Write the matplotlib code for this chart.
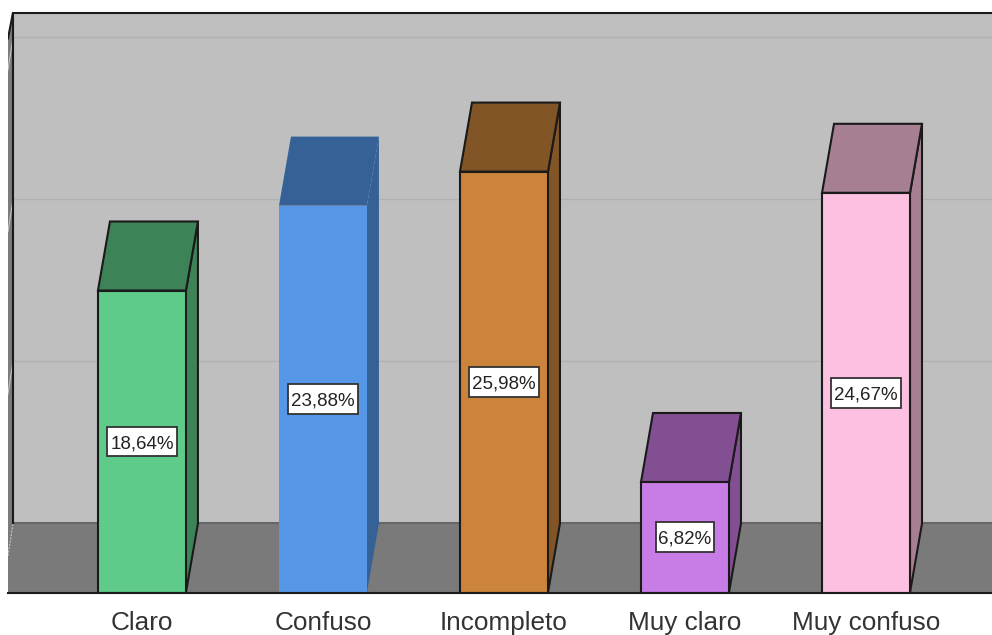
import matplotlib
matplotlib.use("Agg")
import matplotlib.pyplot as plt
from matplotlib.patches import Rectangle

plt.rcParams['font.family'] = ['Liberation Sans', 'DejaVu Sans']

categories = ["Claro", "Confuso", "Incompleto", "Muy claro", "Muy confuso"]
percents = [18.64, 23.88, 25.98, 6.82, 24.67]
front_colors = ["#5ecb8b", "#5596e6", "#cc843d", "#c77de5", "#fec0e0"]
top_colors = ["#3e8358", "#356197", "#825527", "#824f93", "#a67f92"]
has_outline = [True, False, True, True, True]
grid_values = [0, 10, 20, 30]

W, H = 992, 635
bar_w = 0.486
# depth of the fake 3d box, in data units
dx = 0.0663
dy = 4.26
# value label box: width per character and height, in data units
box_char_w = 0.065
box_h = 1.85

fig = plt.figure(figsize=(W / 100, H / 100), dpi=100)
ax = fig.add_axes([8 / W, (H - 592.5) / H, (W - 8) / W, 580 / H])
ax.set_xlim(-0.74, 4.696)
ax.set_ylim(0, 35.8)

x0, x1 = ax.get_xlim()
y1 = ax.get_ylim()[1]
wall_x = x0 + 5 / 181

# back wall, side wall and floor
ax.fill([wall_x, x1, x1, wall_x], [dy, dy, y1, y1], color="#bfbfbf", lw=0, zorder=1)
ax.fill([x0, wall_x, wall_x, x0], [dy, dy, y1, y1 - 1.6], color="#7c7c7c", lw=0, zorder=1)
ax.fill([x0, x1, x1, x0], [0, 0, dy, dy], color="#7a7a7a", lw=0, zorder=1)
for g in grid_values[1:]:
    ax.plot([wall_x, x1], [g + dy, g + dy], color="#b0b0b0", lw=1.0, zorder=2)
    ax.plot([x0, wall_x], [g + dy - 2.0, g + dy], color="#c4c4c4", lw=0.8, zorder=2)
ax.plot([x0, wall_x], [dy - 2.0, dy], color="#c4c4c4", lw=0.8, ls=(0, (2, 1)), zorder=2)
ax.plot([wall_x, x1], [dy, dy], color="#666666", lw=1.5, zorder=2)
ax.plot([wall_x, wall_x], [dy, y1], color="#1a1a1a", lw=1.5, zorder=3)
ax.plot([x0, wall_x], [y1 - 1.6, y1], color="#1a1a1a", lw=1.5, zorder=3)
ax.plot([wall_x, x1], [y1, y1], color="#1a1a1a", lw=1.5, zorder=3, clip_on=False)
ax.plot([x0, x1], [0, 0], color="#1a1a1a", lw=1.5, zorder=8, clip_on=False)

for i, v in enumerate(percents):
    l = i - bar_w / 2
    r = i + bar_w / 2
    line = 1.5 if has_outline[i] else 0
    # right side and top faces first, then the front
    ax.fill([r, r + dx, r + dx, r], [0, dy, v + dy, v],
            facecolor=top_colors[i], edgecolor="#1a1a1a", lw=line, zorder=4)
    ax.fill([l, r, r + dx, l + dx], [v, v, v + dy, v + dy],
            facecolor=top_colors[i], edgecolor="#1a1a1a", lw=line, zorder=4)
    ax.bar(i, v, width=bar_w, color=front_colors[i], edgecolor="#1a1a1a", lw=line, zorder=5)
    label = f"{v:.2f}%".replace(".", ",")
    box_w = box_char_w * len(label)
    ax.add_patch(Rectangle((i - box_w / 2, v / 2 - box_h / 2), box_w, box_h,
                           fc="white", ec="#333333", lw=1.3, zorder=6))
    ax.text(i, v / 2, label, ha="center", va="center_baseline",
            fontsize=13.5, color="#222222", zorder=7)

ax.set_xticks(range(len(categories)))
ax.set_xticklabels(categories, fontsize=18.8, color="#333333")
ax.tick_params(axis="x", length=0, pad=13.5)
ax.set_yticks([])
for s in ax.spines.values():
    s.set_visible(False)

fig.savefig("out.png", dpi=100)
